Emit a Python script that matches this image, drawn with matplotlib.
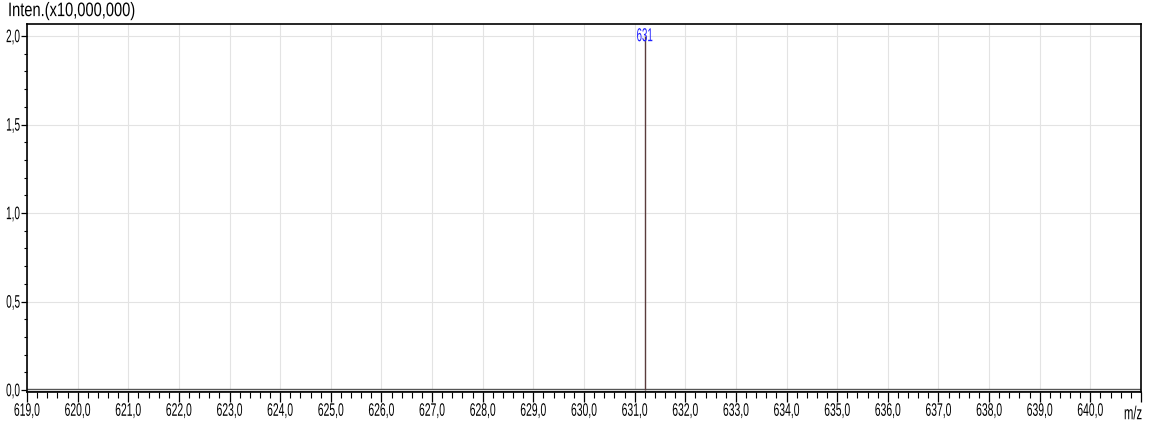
import matplotlib
matplotlib.use("Agg")
import matplotlib.pyplot as plt
from matplotlib.ticker import MultipleLocator, FuncFormatter
from matplotlib.patheffects import AbstractPathEffect
from matplotlib.transforms import Affine2D

# Spectrum peaks (m/z, intensity in units of 1e7)
peak_mz = [631.2]
peak_intensity = [2.0]
peak_labels = ["631"]

x_min, x_max = 619.0, 641.0
y_min, y_max = -0.011, 2.068
x_label = "m/z"
y_label = "Inten.(x10,000,000)"

plt.rcParams["font.family"] = ["Liberation Sans", "DejaVu Sans"]


class Narrow(AbstractPathEffect):
    """Reshape glyphs (tall and narrow) around a horizontal anchor and their vertical centre."""

    def __init__(self, sx, sy, anchor="center"):
        super().__init__()
        self.sx = sx
        self.sy = sy
        self.anchor = anchor

    def draw_path(self, renderer, gc, tpath, affine, rgbFace=None):
        v = tpath.vertices
        if len(v):
            if self.anchor == "left":
                cx = 0.0
            elif self.anchor == "right":
                cx = v[:, 0].max()
            else:
                cx = 0.5 * (v[:, 0].min() + v[:, 0].max())
            cy = 0.5 * (v[:, 1].min() + v[:, 1].max())
            shape = (Affine2D().translate(-cx, -cy)
                     .scale(self.sx, self.sy)
                     .translate(cx, cy))
            affine = shape + affine
        renderer.draw_path(gc, tpath, affine, rgbFace)


fig = plt.figure(figsize=(11.52, 4.32), dpi=100)
ax = fig.add_axes([27 / 1152, 1 - 392 / 432, (1141 - 27) / 1152, (392 - 24) / 432])

ax.set_xlim(x_min, x_max)
ax.set_ylim(y_min, y_max)

ax.xaxis.set_major_locator(MultipleLocator(1.0))
ax.xaxis.set_minor_locator(MultipleLocator(0.2))
ax.yaxis.set_major_locator(MultipleLocator(0.5))
ax.yaxis.set_minor_locator(MultipleLocator(0.1))
ax.grid(True, which="major", color="#e3e3e3", linewidth=0.8)
ax.set_axisbelow(True)


def fmt_x(v, p):
    # the last position is left for the "m/z" caption
    if v > x_max - 0.5:
        return ""
    return f"{v:.1f}".replace(".", ",")


ax.xaxis.set_major_formatter(FuncFormatter(fmt_x))
ax.yaxis.set_major_formatter(FuncFormatter(lambda v, p: f"{v:.1f}".replace(".", ",")))

ax.tick_params(axis="x", which="major", direction="out", length=7, width=0.9,
               labelsize=9, pad=2.5)
ax.tick_params(axis="x", which="minor", direction="out", length=4, width=0.8)
ax.tick_params(axis="y", which="major", direction="out", length=4.5, width=0.9,
               labelsize=9, pad=0.5)
ax.tick_params(axis="y", which="minor", direction="out", length=2.5, width=0.8)

for s in ax.spines.values():
    s.set_color("black")
    s.set_linewidth(1.2)

# spectrum baseline
ax.axhline(0.0, color="#444444", linewidth=2.4, zorder=2)
ax.axhline(0.0, color="#d8d8d8", linewidth=0.9, zorder=2)

# peaks with their labels
ax.vlines(peak_mz, 0, peak_intensity, color="#5a3c3c", linewidth=1.0, zorder=3)
for mz, h, lab in zip(peak_mz, peak_intensity, peak_labels):
    ax.text(mz, h, lab, color="#2020ff", fontsize=9, ha="center", va="center",
            zorder=4, path_effects=[Narrow(0.78, 1.5, "center")])

fig.text(8 / 1152, 1 - 11 / 432, y_label, fontsize=11, ha="left", va="center",
         path_effects=[Narrow(0.96, 1.28, "left")])
fig.text(1133 / 1152, 1 - 414 / 432, x_label, fontsize=9, ha="center", va="center",
         path_effects=[Narrow(0.9, 1.5, "center")])

fig.canvas.draw()
for t in ax.xaxis.get_major_ticks():
    t.label1.set_path_effects([Narrow(0.83, 1.45, "center")])
for t in ax.yaxis.get_major_ticks():
    t.label1.set_path_effects([Narrow(0.8, 1.45, "right")])

fig.savefig("out.png", dpi=100)
